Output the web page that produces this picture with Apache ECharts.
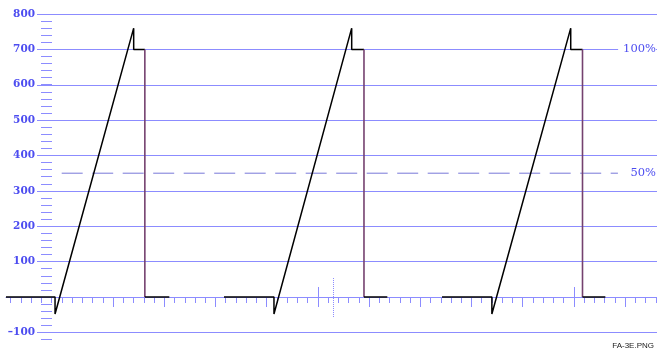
<!DOCTYPE html>
<html>
<head>
<meta charset="utf-8">
<script src="https://cdn.jsdelivr.net/npm/echarts@6/dist/echarts.min.js"></script>
<style>
  html, body { margin: 0; padding: 0; background: #fff; }
  #scope { width: 657px; height: 353px; }
</style>
</head>
<body>
<div id="scope"></div>
<script>
// graticule: vertical scale in mV-ish units, horizontal in graticule divisions
var yMin = -100, yMax = 800, yStep = 100, yMinorStep = 20;
var yMinorMin = -120, yMinorMax = 780;
var xDivMin = 0, xDivMax = 63;
var longTicks = [10, 15, 20, 25, 30, 35, 40, 45, 50, 55, 60];
var tallTicks = [30, 55];
var cursorTicks = [31.5];
var percentLevels = [350, 700];

// waveform, three lines (x in divisions, y in scale units)
var lineStart = [-0.46, 20.83, 42.12];
var syncAt    = [4.33, 25.71, 46.99];
var peakAt    = [12.01, 33.3, 54.69];
var fallAt    = [13.1, 34.5, 55.84];
var lineEnd   = [15.49, 36.78, 58.07];
var blankLevel = 0, syncLevel = -48, peakLevel = 760, stepLevel = 700;
var refLevel = 350, refFrom = 4.98, refTo = 59.3;

// page geometry
var W = 657, H = 353;
var TOP = 14, ZERO_Y = 297, X0 = 10.7, DX = 10.24;
var PX = (ZERO_Y - TOP) / yMax;
function yPix(v) { return ZERO_Y - v * PX; }
function xPix(u) { return X0 + u * DX; }

var lineBlue = '#8c8cff';
var textBlue = '#4c4cf0';
var serif = 'DejaVu Serif';

var grids = [], xAxes = [], yAxes = [];
function addGrid(g, xa, ya) {
  var i = grids.length;
  grids.push(g);
  xa.gridIndex = i; ya.gridIndex = i;
  xAxes.push(xa); yAxes.push(ya);
  return i;
}
function hiddenAxis(min, max) {
  return { type: 'value', show: false, min: min, max: max };
}

// 0: waveform + baseline
var xLo = (6 - X0) / DX, xHi = (W - X0) / DX;
addGrid({ left: 6, right: 0, top: yPix(yMax), bottom: H - yPix(yMin) },
  { type: 'value', min: xLo, max: xHi,
    axisLine: { show: true, onZero: true, lineStyle: { color: lineBlue, width: 1 } },
    axisTick: { show: false }, axisLabel: { show: false }, splitLine: { show: false } },
  hiddenAxis(yMin, yMax));

// 1: scale lines and labels
addGrid({ left: 37, right: 0, top: yPix(yMax), bottom: H - yPix(yMin) },
  hiddenAxis(0, 1),
  { type: 'value', min: yMin, max: yMax, interval: yStep,
    axisLine: { show: false }, axisTick: { show: false },
    axisLabel: { margin: 2, color: textBlue, fontFamily: serif, fontSize: 10.5, fontWeight: 'bold',
      formatter: function (v) { return v === 0 ? '' : String(v).replace('-', '\u2013'); } },
    splitLine: { show: true, lineStyle: { color: lineBlue, width: 1 } } });

// 2: minor scale ticks
addGrid({ left: 41, right: W - 62, top: yPix(yMinorMax), bottom: H - yPix(yMinorMin) },
  hiddenAxis(0, 1),
  { type: 'value', min: yMinorMin, max: yMinorMax, interval: yMinorStep,
    axisLine: { show: false }, axisLabel: { show: false }, splitLine: { show: false },
    axisTick: { show: true, inside: true, length: 11, lineStyle: { color: lineBlue, width: 1 } } });

// horizontal tick rows
function tickRow(baseY, len, inside, values, type) {
  var tick = { show: true, inside: inside, length: len,
    lineStyle: { color: lineBlue, width: 1, type: type || 'solid' } };
  var xa = { type: 'value', position: 'bottom', min: xDivMin, max: xDivMax, interval: 1,
    axisLine: { show: false, onZero: false }, axisLabel: { show: false },
    splitLine: { show: false }, axisTick: tick };
  if (values) tick.customValues = values;
  addGrid({ left: xPix(xDivMin), right: W - xPix(xDivMax), top: baseY - 60, bottom: H - baseY },
    xa, hiddenAxis(0, 1));
}
tickRow(ZERO_Y, 6, false, null);
tickRow(ZERO_Y, 10, false, longTicks);
tickRow(307, 20, true, tallTicks);
tickRow(317, 40, true, cursorTicks, 'dotted');

var series = [];
function seg(data, color, width, type) {
  series.push({ type: 'line', xAxisIndex: 0, yAxisIndex: 0, data: data,
    symbol: 'none', silent: true, clip: false, animation: false,
    lineStyle: { color: color, width: width, type: type || 'solid' } });
}
seg([[refFrom, refLevel], [refTo, refLevel]], '#7878d8', 1, [21, 9.5]);
for (var i = 0; i < lineStart.length; i++) {
  seg([[lineStart[i], blankLevel], [syncAt[i], blankLevel], [syncAt[i], syncLevel],
       [peakAt[i], peakLevel], [peakAt[i], stepLevel], [fallAt[i], stepLevel]], '#000', 1.5);
  seg([[fallAt[i], stepLevel], [fallAt[i], blankLevel]], '#74416f', 1.6);
  seg([[fallAt[i], blankLevel], [lineEnd[i], blankLevel]], '#000', 1.5);
}

var chart = echarts.init(document.getElementById('scope'));
chart.setOption({
  animation: false,
  grid: grids,
  xAxis: xAxes,
  yAxis: yAxes,
  series: series
});

// percent marks on the right, placed through the scale axis
var marks = percentLevels.map(function (v) {
  return { type: 'text', z: 10, x: W - 1,
    y: chart.convertToPixel({ yAxisIndex: 1 }, v),
    style: { text: Math.round(v / stepLevel * 100) + '%', align: 'right', verticalAlign: 'middle',
      font: '11.5px "DejaVu Serif"', fill: textBlue, backgroundColor: '#fff', padding: [2, 0, 2, 5] } };
});
marks.push({ type: 'text', right: 3, bottom: 3,
  style: { text: 'FA-3E.PNG', font: '8px "Liberation Sans"', fill: '#222' } });
chart.setOption({ graphic: marks });
</script>
</body>
</html>
